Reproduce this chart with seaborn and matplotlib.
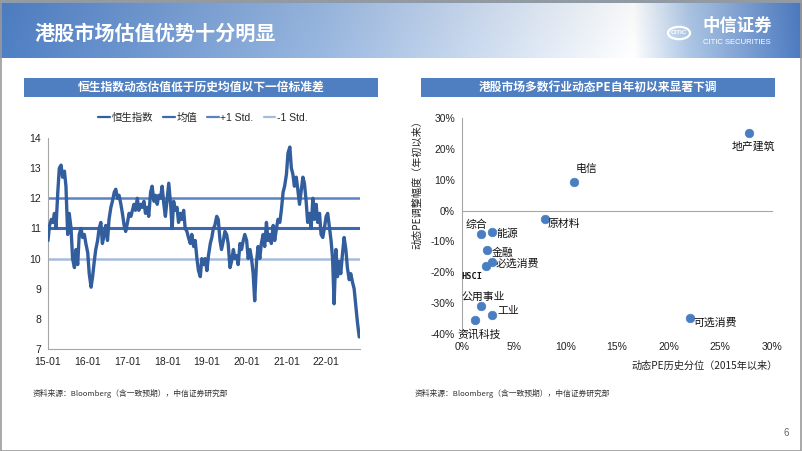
import numpy as np
import pandas as pd
import matplotlib
matplotlib.use("Agg")
import matplotlib.pyplot as plt
import matplotlib.dates as mdates
from matplotlib.lines import Line2D
from matplotlib.patches import Rectangle, Circle
import seaborn as sns

# ---------------- data ----------------
# Hang Seng forward PE, semi-monthly readings from 2015-01 to 2022-11
hsi_pe = [
    10.6, 11.1, 11.3, 11.2, 11.5, 11.0, 12.2, 13.0, 13.1, 12.7, 12.9, 12.4,
    10.8, 11.5, 11.0, 10.0, 9.7, 10.3, 9.8, 10.8, 11.0, 10.7, 10.8, 10.5,
    10.2, 9.5, 9.05, 9.4, 9.9, 10.3, 10.6, 11.0, 11.2, 10.5, 10.8, 11.1,
    10.6, 11.3, 11.7, 11.9, 12.2, 12.3, 12.0, 12.1, 11.8, 11.5, 11.1, 10.9,
    11.2, 11.5, 11.4, 11.6, 11.8, 11.6, 12.0, 11.6, 11.8, 11.7, 11.9, 11.5,
    11.7, 11.4, 12.2, 12.4, 11.9, 12.1, 11.8, 12.1, 12.0, 12.4, 11.8, 11.4,
    12.0, 12.5, 11.8, 11.0, 11.9, 11.6, 11.7, 11.2, 11.5, 11.3, 11.6, 11.0,
    10.9, 10.7, 10.5, 10.8, 10.4, 10.6, 10.0, 9.6, 9.4, 10.0, 9.8, 10.0,
    9.6, 10.1, 10.5, 10.7, 11.0, 11.1, 11.4, 11.3, 10.6, 10.3, 10.6, 10.9,
    10.8, 10.5, 9.7, 9.9, 10.3, 10.0, 10.1, 9.8, 10.5, 10.3, 10.6, 10.8,
    10.6, 10.0, 10.3, 10.0, 9.5, 8.6, 9.9, 10.4, 10.0, 10.5, 10.8, 10.4,
    11.2, 10.6, 10.8, 10.5, 11.1, 10.6, 11.0, 11.3, 11.2, 11.6, 12.2, 12.4,
    12.8, 13.5, 13.7, 13.0, 12.8, 12.4, 12.7, 12.3, 11.8, 12.2, 12.7, 12.5,
    11.9, 11.2, 11.5, 11.0, 12.0, 11.3, 11.8, 11.2, 11.5, 10.8, 10.7, 11.0,
    11.4, 11.5, 11.0, 10.6, 10.0, 8.5, 10.3, 9.4, 9.9, 9.5, 10.2, 10.7,
    10.3, 9.7, 9.3, 9.5, 9.2, 9.0, 8.4, 7.9, 7.4,
]
hsi_mean = 11.0
hsi_plus1 = 12.0
hsi_minus1 = 10.0
legend_labels = ["恒生指数", "均值", "+1 Std.", "-1 Std."]
year_ticks = ["2015-01-01", "2016-01-01", "2017-01-01", "2018-01-01",
              "2019-01-01", "2020-01-01", "2021-01-01", "2022-01-01"]

sectors = ["地产建筑", "电信", "原材料", "综合", "能源", "金融", "必选消费",
           "HSCI", "公用事业", "工业", "资讯科技", "可选消费"]
pe_percentile = [0.278, 0.108, 0.080, 0.018, 0.029, 0.024, 0.029,
                 0.023, 0.018, 0.029, 0.013, 0.221]
pe_change = [0.253, 0.094, -0.026, -0.077, -0.070, -0.127, -0.168,
             -0.179, -0.310, -0.338, -0.356, -0.347]

# label offsets (points) – styling only
label_offsets = {
    "地产建筑": (3, -10), "电信": (9, 9), "原材料": (14, -4), "综合": (-3, 7),
    "能源": (11, -1), "金融": (11, -2), "必选消费": (18, -1), "HSCI": (-10, -8),
    "公用事业": (2, 7), "工业": (12, 3), "资讯科技": (3, -10), "可选消费": (18, -4),
}

# ---------------- style ----------------
sns.set_style("white")
plt.rcParams["font.family"] = ["Liberation Sans", "Noto Sans CJK SC", "DejaVu Sans"]
plt.rcParams["axes.unicode_minus"] = False

W, H = 802, 451
fig = plt.figure(figsize=(W / 100, H / 100), dpi=100)
fig.patch.set_facecolor("white")


def fx(px):
    return px / W


def fy(py):
    return 1 - py / H


def pct(v, p):
    return f"{round(v * 100):d}%"


# ---------------- header banner ----------------
hax = fig.add_axes([0, fy(58), 1, 55 / H])
stops_x = [0.0, 0.40, 0.79, 0.86, 1.0]
stops_c = np.array([
    [0.31, 0.50, 0.77],
    [0.60, 0.72, 0.88],
    [1.00, 1.00, 1.00],
    [0.68, 0.78, 0.90],
    [0.30, 0.48, 0.76],
])
xs = np.linspace(0, 1, 800)
grad = np.stack([np.interp(xs, stops_x, stops_c[:, k]) for k in range(3)], axis=-1)
grad = np.tile(grad[None, :, :], (10, 1, 1))
shade = np.linspace(0.97, 1.0, 10)[:, None, None]
hax.imshow(grad * shade, aspect="auto", extent=[0, 1, 0, 1])
hax.set_axis_off()
fig.add_artist(Rectangle((0, fy(3)), 1, 3 / H, transform=fig.transFigure,
                         color="#8a9bb0", lw=0))

fig.text(fx(35), fy(33), "港股市场估值优势十分明显", color="white", fontsize=14.5,
         fontweight="bold", va="center", ha="left",
         family=["Noto Sans CJK SC", "DejaVu Sans"])
# logo
fig.add_artist(Circle((fx(679), fy(33)), 11 / W, transform=fig.transFigure,
                      facecolor="none", edgecolor="white", lw=1.6))
fig.text(fx(679), fy(33), "CITIC", color="white", fontsize=4.5, ha="center",
         va="center", fontweight="bold")
fig.text(fx(737), fy(26), "中信证券", color="white", fontsize=12.5, ha="center",
         va="center", fontweight="bold", family=["Noto Sans CJK SC", "DejaVu Sans"])
fig.text(fx(737), fy(43), "CITIC SECURITIES", color="white", fontsize=5.5,
         ha="center", va="center")

# ---------------- panel title bars ----------------
bar_col = "#4F7FC0"
for (x0, x1, title) in [(24, 378, "恒生指数动态估值低于历史均值以下一倍标准差"),
                        (421, 775, "港股市场多数行业动态PE自年初以来显著下调")]:
    fig.add_artist(Rectangle((fx(x0), fy(97)), fx(x1) - fx(x0), 19 / H,
                             transform=fig.transFigure, color=bar_col, lw=0))
    fig.text((fx(x0) + fx(x1)) / 2, fy(87.5), title, color="white", fontsize=8.5,
             fontweight="bold", ha="center", va="center",
             family=["Noto Sans CJK SC", "DejaVu Sans"])

# ---------------- left chart ----------------
c_line = "#335E9E"
c_mean = "#3D67AE"
c_plus = "#5A82C4"
c_minus = "#A6BCDD"

dates = pd.date_range("2015-01-01", periods=len(hsi_pe), freq="SMS")
df = pd.DataFrame({"date": dates, "pe": hsi_pe})

ax1 = fig.add_axes([fx(48), fy(349), fx(360) - fx(48), (349 - 138) / H])
ax1.axhline(hsi_plus1, color=c_plus, lw=1.8, zorder=1)
ax1.axhline(hsi_mean, color=c_mean, lw=2.2, zorder=1)
ax1.axhline(hsi_minus1, color=c_minus, lw=1.8, zorder=1)
sns.lineplot(data=df, x="date", y="pe", ax=ax1, color=c_line, lw=2.4, zorder=3)
ax1.set_xlim(pd.Timestamp("2015-01-01"), pd.Timestamp("2022-11-08"))
ax1.set_ylim(7, 14)
ax1.set_yticks(range(7, 15))
ax1.set_xticks(pd.to_datetime(year_ticks))
ax1.xaxis.set_major_formatter(mdates.DateFormatter("%y-%m"))
ax1.set_xlabel("")
ax1.set_ylabel("")
for s in ["top", "right"]:
    ax1.spines[s].set_visible(False)
for s in ["left", "bottom"]:
    ax1.spines[s].set_color("#a6a6a6")
    ax1.spines[s].set_linewidth(0.8)
ax1.tick_params(axis="both", which="both", direction="out", length=3, width=0.8,
                color="#a6a6a6", labelsize=7.5, labelcolor="#222222", pad=2)
ax1.tick_params(axis="x", pad=2.5)

handles = [Line2D([], [], color=c_line, lw=1.6),
           Line2D([], [], color=c_mean, lw=1.6),
           Line2D([], [], color=c_plus, lw=1.6),
           Line2D([], [], color=c_minus, lw=1.6)]
fig.legend(handles, legend_labels, loc="center", bbox_to_anchor=(fx(203), fy(118)),
           ncol=4, frameon=False, handlelength=1.1, handletextpad=0.15,
           columnspacing=1.0, prop={"family": ["Liberation Sans", "Noto Sans CJK SC"],
                                    "size": 7.5})

# ---------------- right chart ----------------
sdf = pd.DataFrame({"sector": sectors, "x": pe_percentile, "y": pe_change})
ax2 = fig.add_axes([fx(462), fy(334), fx(772) - fx(462), (334 - 118) / H])
sns.scatterplot(data=sdf, x="x", y="y", ax=ax2, color="#4A7EC2", s=38,
                edgecolor="#4A7EC2", linewidth=0.5, zorder=3, legend=False)
ax2.set_xlim(0, 0.30)
ax2.set_ylim(-0.40, 0.30)
ax2.set_xticks(np.arange(0, 0.301, 0.05))
ax2.set_yticks(np.arange(-0.4, 0.301, 0.1))
ax2.yaxis.set_major_formatter(matplotlib.ticker.FuncFormatter(pct))
ax2.set_xlabel("")
ax2.set_ylabel("")
for s in ["top", "right"]:
    ax2.spines[s].set_visible(False)
ax2.spines["bottom"].set_position(("data", 0))
for s in ["left", "bottom"]:
    ax2.spines[s].set_color("#a6a6a6")
    ax2.spines[s].set_linewidth(0.8)
ax2.tick_params(axis="x", direction="out", length=3, width=0.8, color="#a6a6a6",
                labelbottom=False)
ax2.tick_params(axis="y", direction="out", length=3, width=0.8, color="#a6a6a6",
                labelsize=7.5, labelcolor="#222222", pad=2)
sec = ax2.secondary_xaxis("bottom")
sec.set_xticks(np.arange(0, 0.301, 0.05))
sec.xaxis.set_major_formatter(matplotlib.ticker.FuncFormatter(pct))
sec.spines["bottom"].set_visible(False)
sec.tick_params(axis="x", length=0, labelsize=7.5, labelcolor="#222222", pad=6)

for name, x, y in zip(sectors, pe_percentile, pe_change):
    dx, dy = label_offsets[name]
    if name == "HSCI":
        ax2.annotate(name, (x, y), xytext=(dx, dy), textcoords="offset points",
                     ha="center", va="center", fontsize=6.2, color="#111111",
                     family=["DejaVu Sans Mono"], fontweight="bold")
    else:
        ax2.annotate(name, (x, y), xytext=(dx, dy), textcoords="offset points",
                     ha="center", va="center", fontsize=7.8, color="#111111",
                     family=["Noto Sans CJK SC", "DejaVu Sans"])

fig.text(fx(417), fy(182), "动态PE调整幅度（年初以来）", rotation=90, fontsize=7.3,
         ha="center", va="center", color="#222222",
         family=["Noto Sans CJK SC", "DejaVu Sans"])
fig.text(fx(778), fy(366), "动态PE历史分位（2015年以来）", fontsize=7.3,
         ha="right", va="center", color="#222222",
         family=["Noto Sans CJK SC", "DejaVu Sans"])

# ---------------- footers ----------------
src = "资料来源：Bloomberg（含一致预期），中信证券研究部"
fig.text(fx(33), fy(393), src, fontsize=5.6, ha="left", va="center", color="#333333",
         family=["Noto Sans CJK SC", "DejaVu Sans"])
fig.text(fx(415), fy(393), src, fontsize=5.6, ha="left", va="center", color="#333333",
         family=["Noto Sans CJK SC", "DejaVu Sans"])
fig.text(fx(786), fy(433), "6", fontsize=7, ha="center", va="center", color="#666666")

# slide border
fig.add_artist(Rectangle((0.5 / W, 0.5 / H), 1 - 1.5 / W, 1 - 1.5 / H,
                         transform=fig.transFigure, fill=False,
                         edgecolor="#9a9a9a", lw=1.2))

fig.savefig("out.png", dpi=100)
